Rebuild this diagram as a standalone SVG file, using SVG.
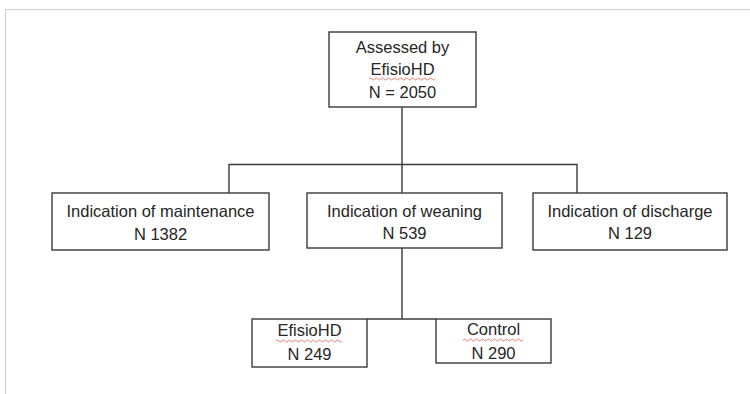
<svg xmlns="http://www.w3.org/2000/svg" width="750" height="394" viewBox="0 0 750 394">
<style>
.box{fill:#ffffff;stroke:#3a3a3a;stroke-width:1.4}
.ln{fill:none;stroke:#3a3a3a;stroke-width:1.4}
.t{font-family:"Liberation Sans",Arial,sans-serif;font-size:16.5px;fill:#262626;text-anchor:middle}
.sq{fill:none;stroke:#e0413a;stroke-width:0.9;opacity:0.75}
.frame{fill:none;stroke:#cfcfcf;stroke-width:1}
</style>
<rect width="750" height="394" fill="#ffffff"/>
<path class="frame" d="M5.5,394 V9.5 H750"/>
<g id="connectors">
<path class="ln" d="M402,107 V164.5 M229,193 V164.5 H577 V193 M402,164.5 V193"/>
<path class="ln" d="M402,248 V319 M367,319 H436"/>
</g>
<g id="n_assessed">
<rect class="box" x="329" y="32" width="147" height="75"/>
<text class="t" x="402.5" y="53">Assessed by</text>
<text class="t" x="402.5" y="75">EfisioHD</text>
<text class="t" x="402.5" y="98">N = 2050</text>
<path class="sq" d="M369,79 q1.5,-2 3,0 t3,0 t3,0 t3,0 t3,0 t3,0 t3,0 t3,0 t3,0 t3,0 t3,0 t3,0 t3,0 t3,0 t3,0 t3,0 t3,0 t3,0 t3,0 t3,0 t3,0 t3,0"/>
</g>
<g id="n_maintenance">
<rect class="box" x="52" y="193" width="217" height="57"/>
<text class="t" x="160.5" y="217">Indication of maintenance</text>
<text class="t" x="160.5" y="240">N 1382</text>
</g>
<g id="n_weaning">
<rect class="box" x="307" y="193" width="195" height="55"/>
<text class="t" x="404.5" y="217">Indication of weaning</text>
<text class="t" x="404.5" y="239">N 539</text>
</g>
<g id="n_discharge">
<rect class="box" x="533" y="193" width="194" height="57"/>
<text class="t" x="630" y="217">Indication of discharge</text>
<text class="t" x="630" y="239">N 129</text>
</g>
<g id="n_efisiohd">
<rect class="box" x="252" y="319" width="115" height="48"/>
<text class="t" x="309.5" y="336">EfisioHD</text>
<text class="t" x="309.5" y="360">N 249</text>
<path class="sq" d="M276,341 q1.5,-2 3,0 t3,0 t3,0 t3,0 t3,0 t3,0 t3,0 t3,0 t3,0 t3,0 t3,0 t3,0 t3,0 t3,0 t3,0 t3,0 t3,0 t3,0 t3,0 t3,0 t3,0 t3,0"/>
</g>
<g id="n_control">
<rect class="box" x="436" y="319" width="115" height="44"/>
<text class="t" x="493.5" y="335">Control</text>
<text class="t" x="493.5" y="359">N 290</text>
<path class="sq" d="M463,340 q1.5,-2 3,0 t3,0 t3,0 t3,0 t3,0 t3,0 t3,0 t3,0 t3,0 t3,0 t3,0 t3,0 t3,0 t3,0 t3,0 t3,0 t3,0 t3,0 t3,0 t3,0"/>
</g>
</svg>
